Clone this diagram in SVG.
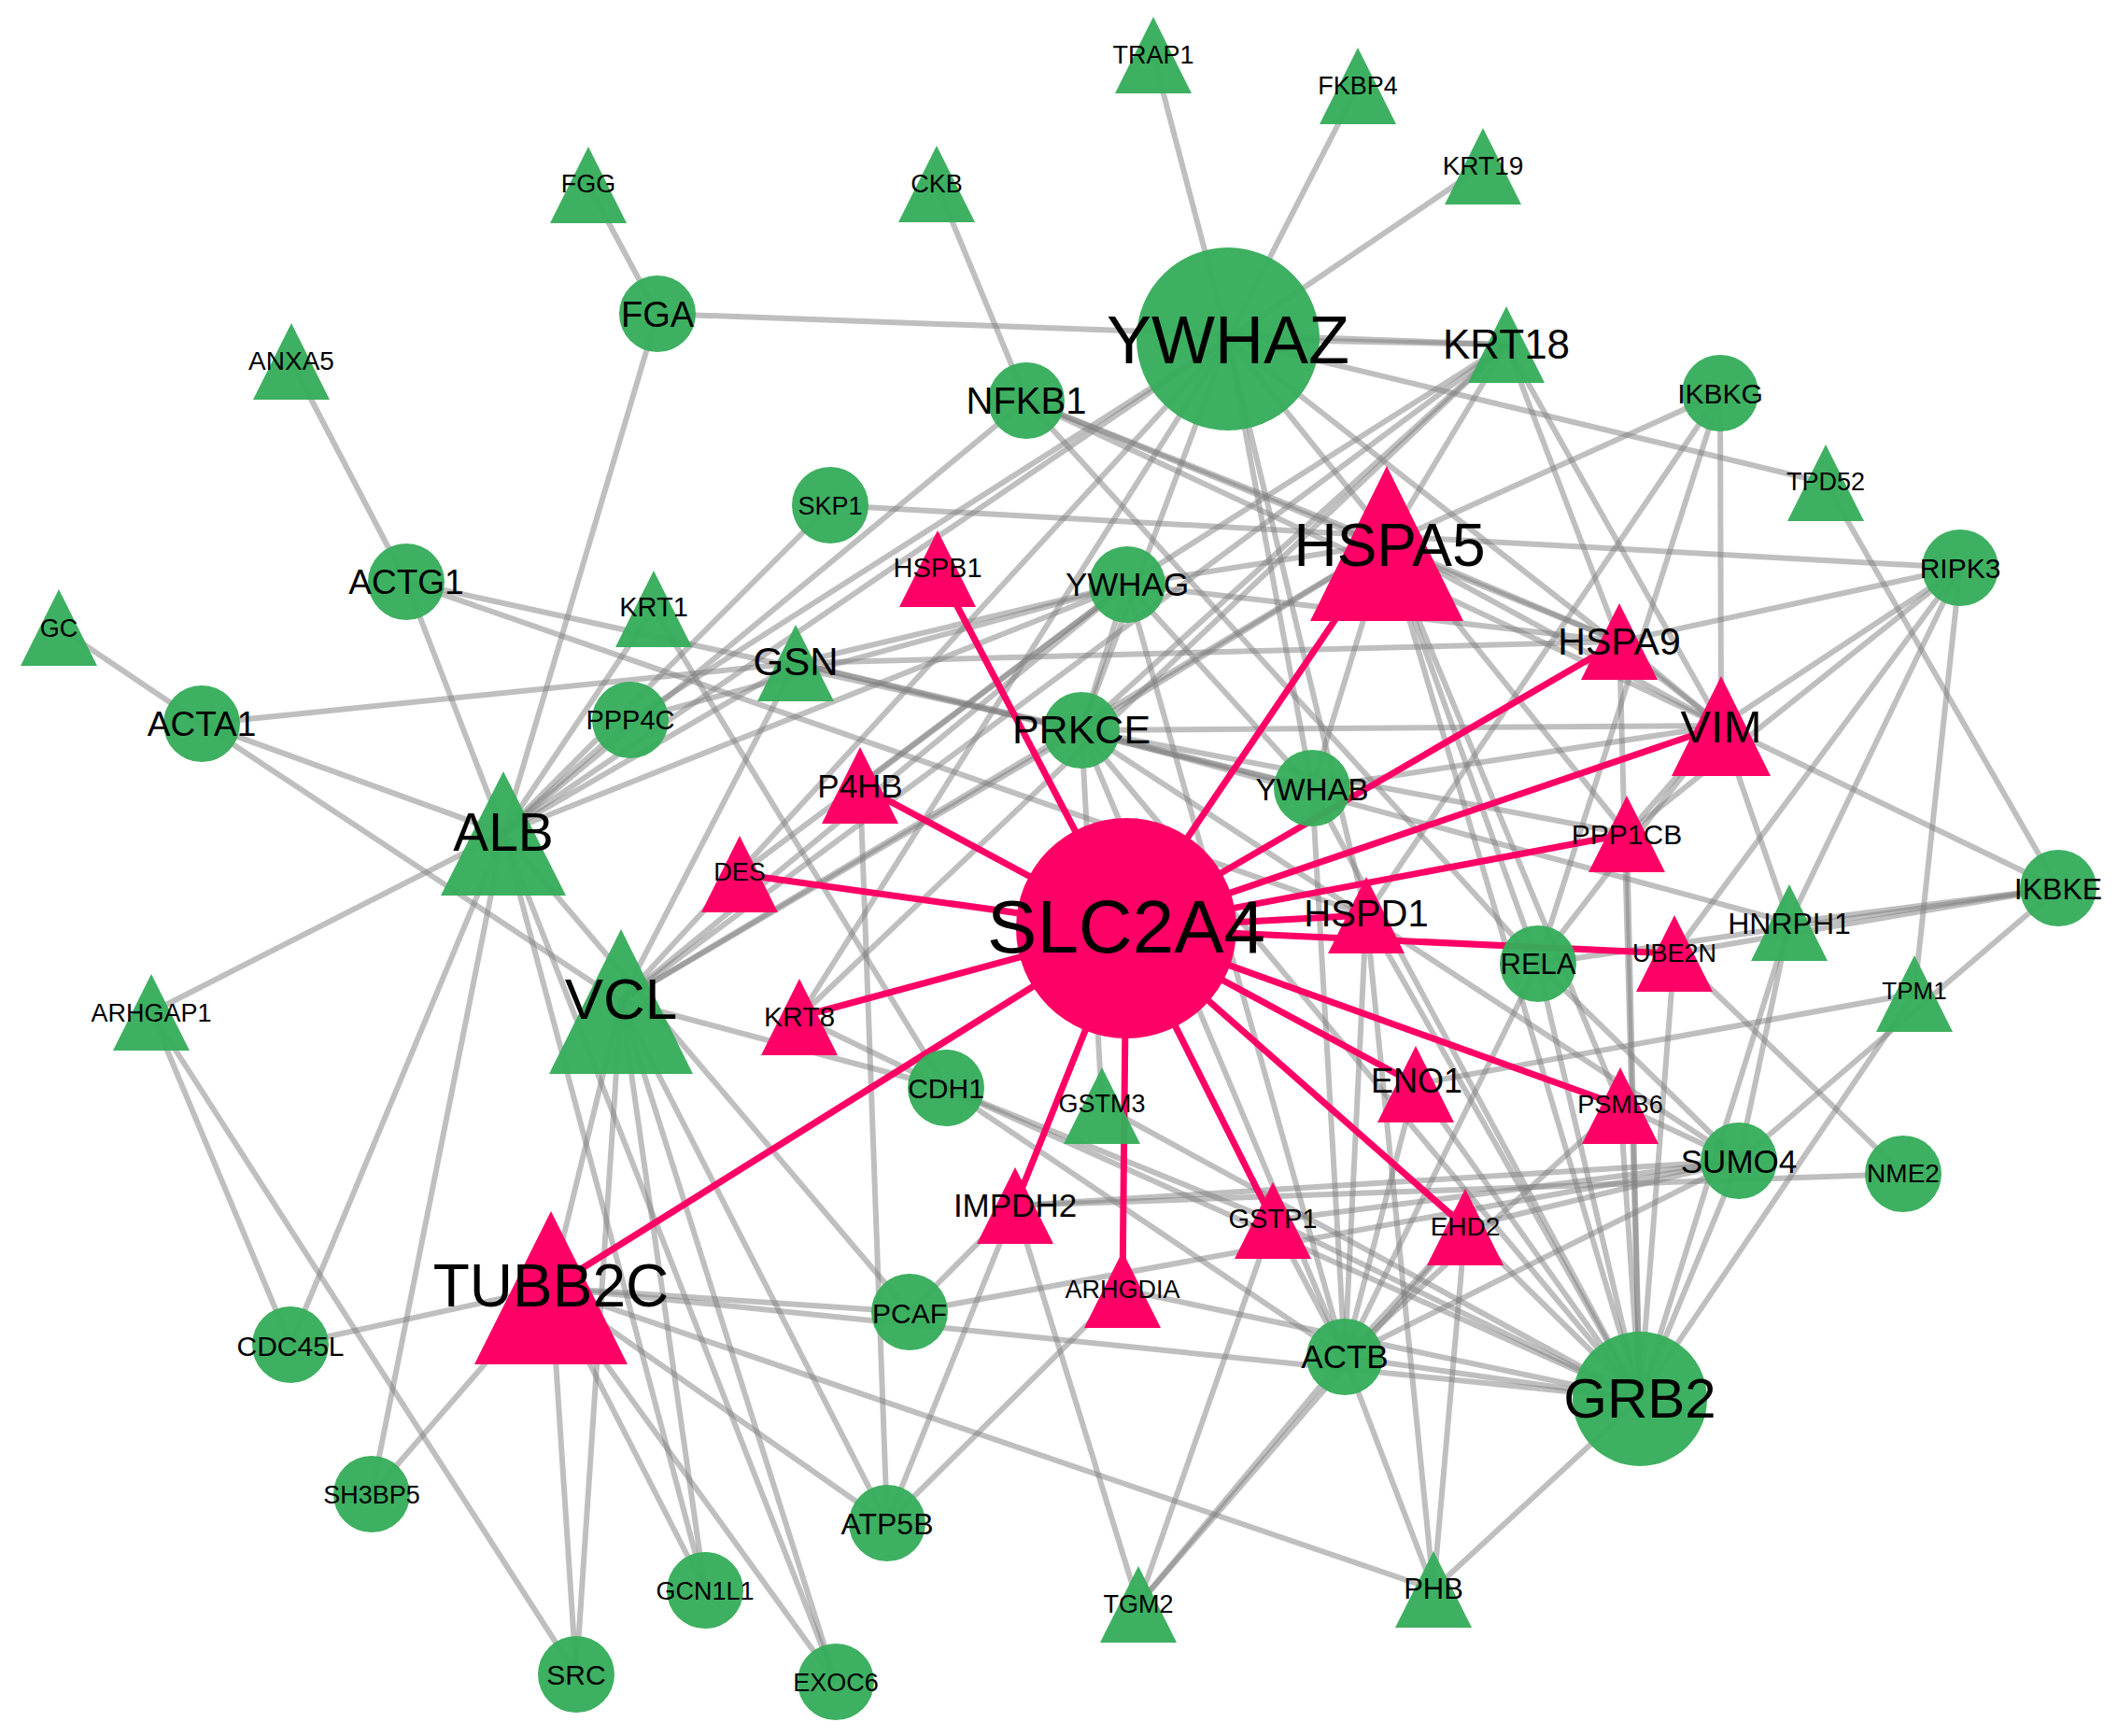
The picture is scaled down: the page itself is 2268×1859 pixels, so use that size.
<svg xmlns="http://www.w3.org/2000/svg" width="2268" height="1859" viewBox="0 0 2268 1859">
<style>
.e line{stroke:#808080;stroke-opacity:.5;stroke-width:6}
.pe line{stroke:#ff0066;stroke-width:7}
.g{fill:#36ad5b;fill-opacity:.96}
.p{fill:#ff0066}
text{font-family:"Liberation Sans",Arial,sans-serif;text-anchor:middle;fill:#000}
</style>
<rect width="2268" height="1859" fill="#fff"/>
<g id="connectors">
<g class="e">
<line x1="1235" y1="59" x2="1315" y2="363"/>
<line x1="1454" y1="92" x2="1315" y2="363"/>
<line x1="1588" y1="178" x2="1315" y2="363"/>
<line x1="630" y1="198" x2="704" y2="336"/>
<line x1="1003" y1="197" x2="1099" y2="429"/>
<line x1="704" y1="336" x2="1613" y2="369"/>
<line x1="1315" y1="363" x2="1613" y2="369"/>
<line x1="704" y1="336" x2="539" y2="892"/>
<line x1="312" y1="387" x2="435" y2="623"/>
<line x1="63" y1="672" x2="216" y2="775"/>
<line x1="216" y1="775" x2="852" y2="710"/>
<line x1="216" y1="775" x2="539" y2="892"/>
<line x1="216" y1="775" x2="665" y2="1072"/>
<line x1="435" y1="623" x2="539" y2="892"/>
<line x1="435" y1="623" x2="1158" y2="782"/>
<line x1="435" y1="623" x2="1463" y2="980"/>
<line x1="162" y1="1084" x2="539" y2="892"/>
<line x1="162" y1="1084" x2="311" y2="1440"/>
<line x1="162" y1="1084" x2="617" y2="1793"/>
<line x1="1315" y1="363" x2="1955" y2="517"/>
<line x1="889" y1="541" x2="2099" y2="608"/>
<line x1="889" y1="541" x2="539" y2="892"/>
<line x1="539" y1="892" x2="311" y2="1440"/>
<line x1="539" y1="892" x2="398" y2="1600"/>
<line x1="539" y1="892" x2="755" y2="1703"/>
<line x1="539" y1="892" x2="895" y2="1801"/>
<line x1="539" y1="892" x2="675" y2="771"/>
<line x1="539" y1="892" x2="700" y2="652"/>
<line x1="539" y1="892" x2="852" y2="710"/>
<line x1="539" y1="892" x2="1099" y2="429"/>
<line x1="539" y1="892" x2="1315" y2="363"/>
<line x1="539" y1="892" x2="1207" y2="626"/>
<line x1="539" y1="892" x2="974" y2="1405"/>
<line x1="700" y1="652" x2="1013" y2="1165"/>
<line x1="852" y1="710" x2="665" y2="1072"/>
<line x1="852" y1="710" x2="1207" y2="626"/>
<line x1="852" y1="710" x2="1158" y2="782"/>
<line x1="852" y1="710" x2="1405" y2="844"/>
<line x1="852" y1="710" x2="1734" y2="687"/>
<line x1="675" y1="771" x2="1207" y2="626"/>
<line x1="675" y1="771" x2="1315" y2="363"/>
<line x1="665" y1="1072" x2="1207" y2="626"/>
<line x1="665" y1="1072" x2="1315" y2="363"/>
<line x1="665" y1="1072" x2="1485" y2="582"/>
<line x1="665" y1="1072" x2="1013" y2="1165"/>
<line x1="665" y1="1072" x2="1158" y2="782"/>
<line x1="665" y1="1072" x2="617" y2="1793"/>
<line x1="665" y1="1072" x2="950" y2="1631"/>
<line x1="665" y1="1072" x2="590" y2="1379"/>
<line x1="665" y1="1072" x2="895" y2="1801"/>
<line x1="665" y1="1072" x2="755" y2="1703"/>
<line x1="665" y1="1072" x2="1613" y2="369"/>
<line x1="590" y1="1379" x2="311" y2="1440"/>
<line x1="590" y1="1379" x2="398" y2="1600"/>
<line x1="590" y1="1379" x2="617" y2="1793"/>
<line x1="590" y1="1379" x2="755" y2="1703"/>
<line x1="590" y1="1379" x2="895" y2="1801"/>
<line x1="590" y1="1379" x2="974" y2="1405"/>
<line x1="590" y1="1379" x2="1756" y2="1498"/>
<line x1="590" y1="1379" x2="1535" y2="1702"/>
<line x1="590" y1="1379" x2="950" y2="1631"/>
<line x1="921" y1="841" x2="950" y2="1631"/>
<line x1="921" y1="841" x2="1207" y2="626"/>
<line x1="792" y1="936" x2="1207" y2="626"/>
<line x1="856" y1="1089" x2="1613" y2="369"/>
<line x1="856" y1="1089" x2="1013" y2="1165"/>
<line x1="1013" y1="1165" x2="1756" y2="1498"/>
<line x1="1013" y1="1165" x2="1440" y2="1453"/>
<line x1="1013" y1="1165" x2="1363" y2="1307"/>
<line x1="1180" y1="1184" x2="1158" y2="782"/>
<line x1="1180" y1="1184" x2="1756" y2="1498"/>
<line x1="1158" y1="782" x2="1843" y2="777"/>
<line x1="1158" y1="782" x2="1405" y2="844"/>
<line x1="1158" y1="782" x2="1207" y2="626"/>
<line x1="1158" y1="782" x2="1742" y2="893"/>
<line x1="1158" y1="782" x2="1756" y2="1498"/>
<line x1="1158" y1="782" x2="1440" y2="1453"/>
<line x1="1158" y1="782" x2="1862" y2="1243"/>
<line x1="1158" y1="782" x2="1485" y2="582"/>
<line x1="1158" y1="782" x2="1315" y2="363"/>
<line x1="1158" y1="782" x2="1916" y2="988"/>
<line x1="1158" y1="782" x2="1613" y2="369"/>
<line x1="1207" y1="626" x2="1485" y2="582"/>
<line x1="1207" y1="626" x2="1734" y2="687"/>
<line x1="1207" y1="626" x2="1405" y2="844"/>
<line x1="1207" y1="626" x2="1613" y2="369"/>
<line x1="1207" y1="626" x2="1440" y2="1453"/>
<line x1="1315" y1="363" x2="1463" y2="980"/>
<line x1="1315" y1="363" x2="1405" y2="844"/>
<line x1="1315" y1="363" x2="1843" y2="777"/>
<line x1="1315" y1="363" x2="1742" y2="893"/>
<line x1="1315" y1="363" x2="856" y2="1089"/>
<line x1="1485" y1="582" x2="1613" y2="369"/>
<line x1="1485" y1="582" x2="1842" y2="421"/>
<line x1="1485" y1="582" x2="1734" y2="687"/>
<line x1="1485" y1="582" x2="1843" y2="777"/>
<line x1="1485" y1="582" x2="1735" y2="1184"/>
<line x1="1485" y1="582" x2="1756" y2="1498"/>
<line x1="1485" y1="582" x2="1647" y2="1032"/>
<line x1="1485" y1="582" x2="1099" y2="429"/>
<line x1="1485" y1="582" x2="1405" y2="844"/>
<line x1="1734" y1="687" x2="2099" y2="608"/>
<line x1="1734" y1="687" x2="1099" y2="429"/>
<line x1="1734" y1="687" x2="1843" y2="777"/>
<line x1="1734" y1="687" x2="1613" y2="369"/>
<line x1="1734" y1="687" x2="1756" y2="1498"/>
<line x1="1843" y1="777" x2="1842" y2="421"/>
<line x1="1843" y1="777" x2="2099" y2="608"/>
<line x1="1843" y1="777" x2="2204" y2="951"/>
<line x1="1843" y1="777" x2="1916" y2="988"/>
<line x1="1843" y1="777" x2="1613" y2="369"/>
<line x1="1843" y1="777" x2="1742" y2="893"/>
<line x1="1843" y1="777" x2="1099" y2="429"/>
<line x1="1843" y1="777" x2="1647" y2="1032"/>
<line x1="1843" y1="777" x2="1405" y2="844"/>
<line x1="1742" y1="893" x2="1756" y2="1498"/>
<line x1="1742" y1="893" x2="2099" y2="608"/>
<line x1="1647" y1="1032" x2="1842" y2="421"/>
<line x1="1647" y1="1032" x2="2204" y2="951"/>
<line x1="1647" y1="1032" x2="1756" y2="1498"/>
<line x1="1647" y1="1032" x2="1440" y2="1453"/>
<line x1="1647" y1="1032" x2="1099" y2="429"/>
<line x1="1647" y1="1032" x2="1862" y2="1243"/>
<line x1="1463" y1="980" x2="1535" y2="1702"/>
<line x1="1463" y1="980" x2="1756" y2="1498"/>
<line x1="1463" y1="980" x2="1842" y2="421"/>
<line x1="1463" y1="980" x2="1440" y2="1453"/>
<line x1="1793" y1="1021" x2="2204" y2="951"/>
<line x1="1793" y1="1021" x2="1756" y2="1498"/>
<line x1="1793" y1="1021" x2="2038" y2="1257"/>
<line x1="1793" y1="1021" x2="2099" y2="608"/>
<line x1="1916" y1="988" x2="2099" y2="608"/>
<line x1="1916" y1="988" x2="2204" y2="951"/>
<line x1="1916" y1="988" x2="1862" y2="1243"/>
<line x1="1916" y1="988" x2="1756" y2="1498"/>
<line x1="2050" y1="1064" x2="2099" y2="608"/>
<line x1="2050" y1="1064" x2="1756" y2="1498"/>
<line x1="2050" y1="1064" x2="1516" y2="1161"/>
<line x1="2204" y1="951" x2="1862" y2="1243"/>
<line x1="2204" y1="951" x2="1955" y2="517"/>
<line x1="1862" y1="1243" x2="1756" y2="1498"/>
<line x1="1862" y1="1243" x2="1087" y2="1291"/>
<line x1="1862" y1="1243" x2="1363" y2="1307"/>
<line x1="1862" y1="1243" x2="974" y2="1405"/>
<line x1="1862" y1="1243" x2="1440" y2="1453"/>
<line x1="1862" y1="1243" x2="1569" y2="1314"/>
<line x1="1862" y1="1243" x2="1735" y2="1184"/>
<line x1="2038" y1="1257" x2="1087" y2="1291"/>
<line x1="1516" y1="1161" x2="1440" y2="1453"/>
<line x1="1516" y1="1161" x2="1756" y2="1498"/>
<line x1="1735" y1="1184" x2="1756" y2="1498"/>
<line x1="1735" y1="1184" x2="1440" y2="1453"/>
<line x1="1569" y1="1314" x2="1535" y2="1702"/>
<line x1="1569" y1="1314" x2="1756" y2="1498"/>
<line x1="1569" y1="1314" x2="1219" y2="1718"/>
<line x1="1569" y1="1314" x2="1440" y2="1453"/>
<line x1="1363" y1="1307" x2="1219" y2="1718"/>
<line x1="1363" y1="1307" x2="1440" y2="1453"/>
<line x1="1363" y1="1307" x2="1756" y2="1498"/>
<line x1="1087" y1="1291" x2="1219" y2="1718"/>
<line x1="1087" y1="1291" x2="950" y2="1631"/>
<line x1="1087" y1="1291" x2="974" y2="1405"/>
<line x1="1202" y1="1381" x2="950" y2="1631"/>
<line x1="1202" y1="1381" x2="1756" y2="1498"/>
<line x1="1440" y1="1453" x2="1756" y2="1498"/>
<line x1="1440" y1="1453" x2="1535" y2="1702"/>
<line x1="1440" y1="1453" x2="1219" y2="1718"/>
<line x1="1440" y1="1453" x2="1405" y2="844"/>
<line x1="1535" y1="1702" x2="1756" y2="1498"/>
<line x1="1405" y1="844" x2="1756" y2="1498"/>
</g>
<g class="pe">
<line x1="1206" y1="994" x2="1004" y2="609"/>
<line x1="1206" y1="994" x2="1485" y2="582"/>
<line x1="1206" y1="994" x2="1734" y2="687"/>
<line x1="1206" y1="994" x2="1843" y2="777"/>
<line x1="1206" y1="994" x2="1742" y2="893"/>
<line x1="1206" y1="994" x2="1463" y2="980"/>
<line x1="1206" y1="994" x2="1793" y2="1021"/>
<line x1="1206" y1="994" x2="1735" y2="1184"/>
<line x1="1206" y1="994" x2="1569" y2="1314"/>
<line x1="1206" y1="994" x2="1516" y2="1161"/>
<line x1="1206" y1="994" x2="1363" y2="1307"/>
<line x1="1206" y1="994" x2="1202" y2="1381"/>
<line x1="1206" y1="994" x2="1087" y2="1291"/>
<line x1="1206" y1="994" x2="590" y2="1379"/>
<line x1="1206" y1="994" x2="856" y2="1089"/>
<line x1="1206" y1="994" x2="792" y2="936"/>
<line x1="1206" y1="994" x2="921" y2="841"/>
</g>
</g>
<g id="nodes">
<g id="n-TRAP1"><polygon class="g" points="1235,18 1194,100 1276,100"/><text x="1235" y="68" font-size="27">TRAP1</text></g>
<g id="n-FKBP4"><polygon class="g" points="1454,51 1413,133 1495,133"/><text x="1454" y="101" font-size="27">FKBP4</text></g>
<g id="n-KRT19"><polygon class="g" points="1588,137 1547,219 1629,219"/><text x="1588" y="187" font-size="28">KRT19</text></g>
<g id="n-FGG"><polygon class="g" points="630,157 589,239 671,239"/><text x="630" y="206" font-size="27">FGG</text></g>
<g id="n-CKB"><polygon class="g" points="1003,156 962,238 1044,238"/><text x="1003" y="206" font-size="27">CKB</text></g>
<g id="n-ANXA5"><polygon class="g" points="312,346 271,428 353,428"/><text x="312" y="396" font-size="28">ANXA5</text></g>
<g id="n-GC"><polygon class="g" points="63,631 22,713 104,713"/><text x="63" y="682" font-size="27">GC</text></g>
<g id="n-KRT1"><polygon class="g" points="700,611 659,693 741,693"/><text x="700" y="660" font-size="29">KRT1</text></g>
<g id="n-GSN"><polygon class="g" points="852,669 811,751 893,751"/><text x="852" y="723" font-size="42">GSN</text></g>
<g id="n-KRT18"><polygon class="g" points="1613,328 1572,410 1654,410"/><text x="1613" y="384" font-size="44">KRT18</text></g>
<g id="n-TPD52"><polygon class="g" points="1955,476 1914,558 1996,558"/><text x="1955" y="525" font-size="27">TPD52</text></g>
<g id="n-HNRPH1"><polygon class="g" points="1916,947 1875,1029 1957,1029"/><text x="1916" y="1000" font-size="32">HNRPH1</text></g>
<g id="n-TPM1"><polygon class="g" points="2050,1023 2009,1105 2091,1105"/><text x="2050" y="1070" font-size="26">TPM1</text></g>
<g id="n-ARHGAP1"><polygon class="g" points="162,1043 121,1125 203,1125"/><text x="162" y="1094" font-size="27">ARHGAP1</text></g>
<g id="n-GSTM3"><polygon class="g" points="1180,1143 1139,1225 1221,1225"/><text x="1180" y="1191" font-size="27">GSTM3</text></g>
<g id="n-TGM2"><polygon class="g" points="1219,1677 1178,1759 1260,1759"/><text x="1219" y="1727" font-size="27">TGM2</text></g>
<g id="n-PHB"><polygon class="g" points="1535,1661 1494,1743 1576,1743"/><text x="1535" y="1712" font-size="31">PHB</text></g>
<g id="n-ALB"><polygon class="g" points="539,826 472,959 606,959"/><text x="539" y="911" font-size="57">ALB</text></g>
<g id="n-VCL"><polygon class="g" points="665,995 588,1150 742,1150"/><text x="665" y="1091" font-size="62">VCL</text></g>
<g id="n-FGA"><circle class="g" cx="704" cy="336" r="41"/><text x="704" y="350" font-size="38">FGA</text></g>
<g id="n-NFKB1"><circle class="g" cx="1099" cy="429" r="41"/><text x="1099" y="443" font-size="40">NFKB1</text></g>
<g id="n-IKBKG"><circle class="g" cx="1842" cy="421" r="41"/><text x="1842" y="432" font-size="30">IKBKG</text></g>
<g id="n-SKP1"><circle class="g" cx="889" cy="541" r="41"/><text x="889" y="551" font-size="27">SKP1</text></g>
<g id="n-RIPK3"><circle class="g" cx="2099" cy="608" r="41"/><text x="2099" y="619" font-size="30">RIPK3</text></g>
<g id="n-ACTG1"><circle class="g" cx="435" cy="623" r="41"/><text x="435" y="636" font-size="37">ACTG1</text></g>
<g id="n-YWHAG"><circle class="g" cx="1207" cy="626" r="41"/><text x="1207" y="638" font-size="35">YWHAG</text></g>
<g id="n-ACTA1"><circle class="g" cx="216" cy="775" r="41"/><text x="216" y="788" font-size="37">ACTA1</text></g>
<g id="n-PPP4C"><circle class="g" cx="675" cy="771" r="41"/><text x="675" y="781" font-size="29">PPP4C</text></g>
<g id="n-PRKCE"><circle class="g" cx="1158" cy="782" r="41"/><text x="1158" y="796" font-size="43">PRKCE</text></g>
<g id="n-YWHAB"><circle class="g" cx="1405" cy="844" r="41"/><text x="1405" y="857" font-size="33">YWHAB</text></g>
<g id="n-IKBKE"><circle class="g" cx="2204" cy="951" r="41"/><text x="2204" y="963" font-size="32">IKBKE</text></g>
<g id="n-RELA"><circle class="g" cx="1647" cy="1032" r="41"/><text x="1647" y="1043" font-size="31">RELA</text></g>
<g id="n-CDH1"><circle class="g" cx="1013" cy="1165" r="41"/><text x="1013" y="1176" font-size="30">CDH1</text></g>
<g id="n-SUMO4"><circle class="g" cx="1862" cy="1243" r="41"/><text x="1862" y="1256" font-size="35">SUMO4</text></g>
<g id="n-NME2"><circle class="g" cx="2038" cy="1257" r="41"/><text x="2038" y="1266" font-size="28">NME2</text></g>
<g id="n-PCAF"><circle class="g" cx="974" cy="1405" r="41"/><text x="974" y="1417" font-size="30">PCAF</text></g>
<g id="n-ACTB"><circle class="g" cx="1440" cy="1453" r="41"/><text x="1440" y="1465" font-size="35">ACTB</text></g>
<g id="n-CDC45L"><circle class="g" cx="311" cy="1440" r="41"/><text x="311" y="1452" font-size="30">CDC45L</text></g>
<g id="n-SH3BP5"><circle class="g" cx="398" cy="1600" r="41"/><text x="398" y="1610" font-size="27">SH3BP5</text></g>
<g id="n-ATP5B"><circle class="g" cx="950" cy="1631" r="41"/><text x="950" y="1643" font-size="32">ATP5B</text></g>
<g id="n-GCN1L1"><circle class="g" cx="755" cy="1703" r="41"/><text x="755" y="1713" font-size="27">GCN1L1</text></g>
<g id="n-SRC"><circle class="g" cx="617" cy="1793" r="41"/><text x="617" y="1804" font-size="30">SRC</text></g>
<g id="n-EXOC6"><circle class="g" cx="895" cy="1801" r="41"/><text x="895" y="1811" font-size="27">EXOC6</text></g>
<g id="n-YWHAZ"><circle class="g" cx="1315" cy="363" r="98"/><text x="1315" y="389" font-size="72">YWHAZ</text></g>
<g id="n-GRB2"><circle class="g" cx="1756" cy="1498" r="72"/><text x="1756" y="1518" font-size="60">GRB2</text></g>
<g id="n-HSPB1"><polygon class="p" points="1004,568 963,650 1045,650"/><text x="1004" y="618" font-size="29">HSPB1</text></g>
<g id="n-HSPA9"><polygon class="p" points="1734,646 1693,728 1775,728"/><text x="1734" y="701" font-size="41">HSPA9</text></g>
<g id="n-P4HB"><polygon class="p" points="921,800 880,882 962,882"/><text x="921" y="854" font-size="35">P4HB</text></g>
<g id="n-DES"><polygon class="p" points="792,895 751,977 833,977"/><text x="792" y="943" font-size="27">DES</text></g>
<g id="n-PPP1CB"><polygon class="p" points="1742,852 1701,934 1783,934"/><text x="1742" y="904" font-size="30">PPP1CB</text></g>
<g id="n-HSPD1"><polygon class="p" points="1463,939 1422,1021 1504,1021"/><text x="1463" y="992" font-size="40">HSPD1</text></g>
<g id="n-UBE2N"><polygon class="p" points="1793,980 1752,1062 1834,1062"/><text x="1793" y="1030" font-size="27">UBE2N</text></g>
<g id="n-KRT8"><polygon class="p" points="856,1048 815,1130 897,1130"/><text x="856" y="1099" font-size="30">KRT8</text></g>
<g id="n-ENO1"><polygon class="p" points="1516,1120 1475,1202 1557,1202"/><text x="1517" y="1170" font-size="36">ENO1</text></g>
<g id="n-PSMB6"><polygon class="p" points="1735,1143 1694,1225 1776,1225"/><text x="1735" y="1192" font-size="27">PSMB6</text></g>
<g id="n-IMPDH2"><polygon class="p" points="1087,1250 1046,1332 1128,1332"/><text x="1087" y="1303" font-size="35">IMPDH2</text></g>
<g id="n-GSTP1"><polygon class="p" points="1363,1266 1322,1348 1404,1348"/><text x="1363" y="1315" font-size="29">GSTP1</text></g>
<g id="n-EHD2"><polygon class="p" points="1569,1273 1528,1355 1610,1355"/><text x="1569" y="1323" font-size="28">EHD2</text></g>
<g id="n-ARHGDIA"><polygon class="p" points="1202,1340 1161,1422 1243,1422"/><text x="1202" y="1390" font-size="27">ARHGDIA</text></g>
<g id="n-HSPA5"><polygon class="p" points="1485,499 1403,665 1567,665"/><text x="1488" y="606" font-size="64">HSPA5</text></g>
<g id="n-VIM"><polygon class="p" points="1843,724 1790,831 1896,831"/><text x="1843" y="795" font-size="49">VIM</text></g>
<g id="n-TUBB2C"><polygon class="p" points="590,1297 508,1461 672,1461"/><text x="590" y="1399" font-size="64">TUBB2C</text></g>
<g id="n-SLC2A4"><circle class="p" cx="1206" cy="994" r="118"/><text x="1206" y="1020" font-size="80">SLC2A4</text></g>
</g>
</svg>
